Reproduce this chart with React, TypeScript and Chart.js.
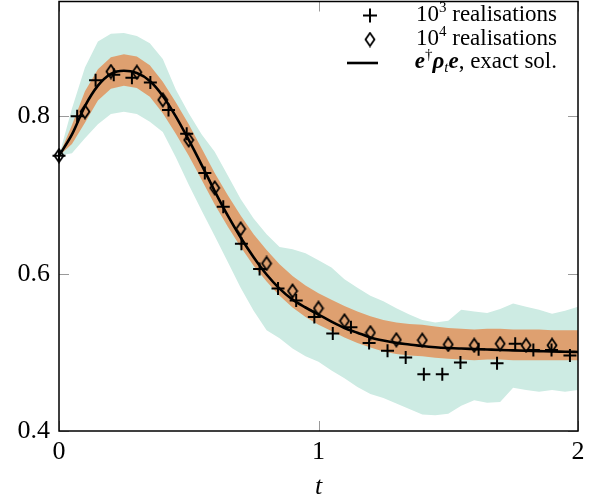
import React, { useEffect, useRef } from "react";
import { Chart, registerables } from "chart.js";

Chart.register(...registerables);

// ---------- data ----------
const xTicks = [0, 1, 2];
const yTicks = [0.4, 0.6, 0.8];

// 10^3 realisations (plus markers)
const plusT = [0, 0.070, 0.141, 0.211, 0.281, 0.352, 0.422, 0.492, 0.562, 0.633, 0.703, 0.773, 0.844, 0.914, 0.984, 1.055, 1.125, 1.195, 1.266, 1.336, 1.406, 1.477, 1.547, 1.617, 1.688, 1.758, 1.828, 1.898, 1.969];
const plusV = [0.75, 0.800, 0.846, 0.853, 0.849, 0.843, 0.808, 0.778, 0.728, 0.685, 0.638, 0.606, 0.581, 0.566, 0.545, 0.524, 0.532, 0.512, 0.502, 0.4935, 0.472, 0.472, 0.487, 0.504, 0.486, 0.511, 0.503, 0.503, 0.496];

// 10^4 realisations (diamond markers)
const diamondT = [0, 0.1, 0.2, 0.3, 0.4, 0.5, 0.6, 0.7, 0.8, 0.9, 1.0, 1.1, 1.2, 1.3, 1.4, 1.5, 1.6, 1.7, 1.8, 1.9];
const diamondV = [0.75, 0.806, 0.857, 0.856, 0.821, 0.770, 0.709, 0.657, 0.613, 0.578, 0.556, 0.540, 0.525, 0.516, 0.5155, 0.510, 0.509, 0.511, 0.509, 0.509];

// common time grid for exact solution and bands
const gridT = [0, 0.05, 0.1, 0.15, 0.2, 0.25, 0.3, 0.35, 0.4, 0.45, 0.5, 0.55, 0.6, 0.65, 0.7, 0.75, 0.8, 0.85, 0.9, 0.95, 1.0, 1.05, 1.1, 1.15, 1.2, 1.25, 1.3, 1.35, 1.4, 1.45, 1.5, 1.55, 1.6, 1.65, 1.7, 1.75, 1.8, 1.85, 1.9, 1.95, 2.0];

// exact solution e† rho_t e
const exactV = [0.75, 0.777, 0.813, 0.839, 0.854, 0.858, 0.855, 0.845, 0.826, 0.800, 0.770, 0.738, 0.705, 0.674, 0.646, 0.621, 0.599, 0.581, 0.567, 0.557, 0.548, 0.539, 0.531, 0.525, 0.519, 0.515, 0.512, 0.510, 0.508, 0.5065, 0.5055, 0.5048, 0.5042, 0.5036, 0.503, 0.5025, 0.502, 0.5015, 0.501, 0.5008, 0.5005];

// spread band of 10^3 realisations (teal)
const tealUpper = [0.75, 0.81, 0.862, 0.895, 0.905, 0.906, 0.902, 0.893, 0.873, 0.834, 0.804, 0.777, 0.755, 0.725, 0.695, 0.670, 0.650, 0.634, 0.631, 0.626, 0.617, 0.608, 0.593, 0.582, 0.572, 0.565, 0.556, 0.548, 0.541, 0.538, 0.540, 0.554, 0.552, 0.550, 0.555, 0.562, 0.558, 0.554, 0.549, 0.553, 0.558];
const tealLower = [0.75, 0.753, 0.772, 0.790, 0.803, 0.806, 0.803, 0.793, 0.780, 0.748, 0.713, 0.680, 0.648, 0.615, 0.582, 0.553, 0.528, 0.518, 0.505, 0.495, 0.488, 0.477, 0.467, 0.456, 0.447, 0.442, 0.435, 0.428, 0.421, 0.420, 0.422, 0.432, 0.439, 0.436, 0.437, 0.455, 0.452, 0.450, 0.452, 0.450, 0.452];

// spread band of 10^4 realisations (orange)
const orangeUpper = [0.75, 0.789, 0.832, 0.860, 0.875, 0.879, 0.876, 0.865, 0.844, 0.818, 0.790, 0.759, 0.728, 0.700, 0.674, 0.650, 0.630, 0.612, 0.597, 0.585, 0.575, 0.567, 0.559, 0.552, 0.546, 0.541, 0.538, 0.536, 0.535, 0.533, 0.531, 0.530, 0.529, 0.530, 0.530, 0.529, 0.529, 0.529, 0.528, 0.528, 0.528];
const orangeLower = [0.75, 0.765, 0.792, 0.820, 0.835, 0.839, 0.836, 0.825, 0.804, 0.778, 0.750, 0.719, 0.688, 0.660, 0.634, 0.610, 0.590, 0.572, 0.557, 0.545, 0.535, 0.527, 0.519, 0.512, 0.506, 0.501, 0.498, 0.496, 0.495, 0.493, 0.492, 0.491, 0.490, 0.491, 0.491, 0.490, 0.490, 0.490, 0.490, 0.490, 0.490];

// ---------- styles ----------
const SERIF = "'Liberation Serif', 'DejaVu Serif', serif";
const TEAL = "rgb(205,235,227)";
const ORANGE = "rgb(222,160,112)";

function pts(xs: number[], ys: number[]) {
  return xs.map((x, i) => ({ x, y: ys[i] }));
}

function makeDiamond(): HTMLCanvasElement {
  const c = document.createElement("canvas");
  const w = 12, h = 16;
  c.width = w;
  c.height = h;
  const g = c.getContext("2d")!;
  g.strokeStyle = "#000";
  g.lineWidth = 1.8;
  g.lineJoin = "miter";
  g.beginPath();
  g.moveTo(w / 2, 1.5);
  g.lineTo(w - 1.5, h / 2);
  g.lineTo(w / 2, h - 1.5);
  g.lineTo(1.5, h / 2);
  g.closePath();
  g.stroke();
  return c;
}

type Seg = { t: string; f: string; dy?: number };

function drawRich(ctx: CanvasRenderingContext2D, segs: Seg[], rightX: number, baseline: number) {
  let total = 0;
  for (const s of segs) {
    ctx.font = s.f;
    total += ctx.measureText(s.t).width;
  }
  let x = rightX - total;
  for (const s of segs) {
    ctx.font = s.f;
    ctx.fillText(s.t, x, baseline + (s.dy || 0));
    x += ctx.measureText(s.t).width;
  }
}

export default function App() {
  const ref = useRef<HTMLCanvasElement>(null);

  useEffect(() => {
    document.body.style.margin = "0";
    const canvas = ref.current!;
    const diamond = makeDiamond();

    const framePlugin = {
      id: "frameTicks",
      afterDatasetsDraw(chart: any) {
        const { ctx, chartArea } = chart;
        const { left, top, right, bottom } = chartArea;
        const xs = chart.scales.x;
        const ys = chart.scales.y;
        ctx.save();
        ctx.strokeStyle = "#9a9a9a";
        ctx.lineWidth = 1;
        ctx.beginPath();
        for (const v of xTicks) {
          const px = Math.round(xs.getPixelForValue(v)) + 0.5;
          ctx.moveTo(px, bottom);
          ctx.lineTo(px, bottom - 10);
          ctx.moveTo(px, top);
          ctx.lineTo(px, top + 10);
        }
        for (const v of yTicks) {
          const py = Math.round(ys.getPixelForValue(v)) + 0.5;
          ctx.moveTo(left, py);
          ctx.lineTo(left + 10, py);
          ctx.moveTo(right, py);
          ctx.lineTo(right - 10, py);
        }
        ctx.stroke();
        ctx.strokeStyle = "#000";
        ctx.lineWidth = 1.5;
        ctx.strokeRect(left, top, right - left, bottom - top);
        ctx.restore();
      },
    };

    const legendPlugin = {
      id: "richLegend",
      afterDraw(chart: any) {
        const { ctx, chartArea } = chart;
        const rx = chartArea.right - 21;
        const mx = chartArea.left + 311;
        const t0 = chartArea.top;
        ctx.save();
        ctx.fillStyle = "#000";
        ctx.textBaseline = "alphabetic";
        ctx.textAlign = "left";
        const reg = `23px ${SERIF}`;
        const small = `15px ${SERIF}`;
        const bi = `italic bold 23px ${SERIF}`;
        const it = `italic 15px ${SERIF}`;

        // row 1: plus marker
        ctx.strokeStyle = "#000";
        ctx.lineWidth = 2;
        const y1 = t0 + 14;
        ctx.beginPath();
        ctx.moveTo(mx - 7, y1);
        ctx.lineTo(mx + 7, y1);
        ctx.moveTo(mx, y1 - 7);
        ctx.lineTo(mx, y1 + 7);
        ctx.stroke();
        drawRich(ctx, [
          { t: "10", f: reg },
          { t: "3", f: small, dy: -9 },
          { t: " realisations", f: reg },
        ], rx, t0 + 19);

        // row 2: diamond marker
        const y2 = t0 + 38;
        ctx.drawImage(diamond, mx - diamond.width / 2, y2 - diamond.height / 2);
        drawRich(ctx, [
          { t: "10", f: reg },
          { t: "4", f: small, dy: -9 },
          { t: " realisations", f: reg },
        ], rx, t0 + 43);

        // row 3: line
        const y3 = t0 + 61.5;
        ctx.lineWidth = 2.6;
        ctx.beginPath();
        ctx.moveTo(chartArea.left + 288, y3);
        ctx.lineTo(chartArea.left + 319, y3);
        ctx.stroke();
        drawRich(ctx, [
          { t: "e", f: bi },
          { t: "\u2020", f: small, dy: -9 },
          { t: "\u03C1", f: bi },
          { t: "t", f: it, dy: 4 },
          { t: "e", f: bi },
          { t: ", exact sol.", f: reg },
        ], rx, t0 + 66);
        ctx.restore();
      },
    };

    const chart = new Chart(canvas, {
      type: "line",
      data: {
        datasets: [
          {
            label: "10³ realisations",
            data: pts(plusT, plusV),
            showLine: false,
            pointStyle: "cross",
            pointRadius: 6.5,
            pointBorderWidth: 2,
            pointBorderColor: "#000",
            borderColor: "#000",
            clip: 10,
            order: 0,
          },
          {
            label: "10⁴ realisations",
            data: pts(diamondT, diamondV),
            showLine: false,
            pointStyle: diamond as any,
            pointRadius: 6,
            clip: 10,
            order: 0,
          },
          {
            label: "e†ρₜe, exact sol.",
            data: pts(gridT, exactV),
            borderColor: "#000",
            borderWidth: 2.6,
            pointRadius: 0,
            cubicInterpolationMode: "monotone",
            fill: false,
            order: 1,
          },
          {
            label: "10⁴ upper",
            data: pts(gridT, orangeUpper),
            borderWidth: 0,
            borderColor: "rgba(0,0,0,0)",
            backgroundColor: ORANGE,
            pointRadius: 0,
            fill: "+1",
            order: 2,
          },
          {
            label: "10⁴ lower",
            data: pts(gridT, orangeLower),
            borderWidth: 0,
            borderColor: "rgba(0,0,0,0)",
            pointRadius: 0,
            fill: false,
            order: 2,
          },
          {
            label: "10³ upper",
            data: pts(gridT, tealUpper),
            borderWidth: 0,
            borderColor: "rgba(0,0,0,0)",
            backgroundColor: TEAL,
            pointRadius: 0,
            fill: "+1",
            order: 3,
          },
          {
            label: "10³ lower",
            data: pts(gridT, tealLower),
            borderWidth: 0,
            borderColor: "rgba(0,0,0,0)",
            pointRadius: 0,
            fill: false,
            order: 3,
          },
        ],
      },
      options: {
        responsive: false,
        animation: false,
        layout: { autoPadding: false, padding: { top: 1.5, right: 30, left: 0, bottom: 0 } },
        plugins: {
          legend: { display: false },
          tooltip: { enabled: false },
        },
        scales: {
          x: {
            type: "linear",
            min: 0,
            max: 2,
            grid: { display: false, drawTicks: false },
            border: { display: false },
            afterBuildTicks: (s: any) => {
              s.ticks = xTicks.map((v) => ({ value: v }));
            },
            afterFit: (s: any) => {
              s.height = 72;
              s.paddingLeft = 0;
              s.paddingRight = 0;
            },
            ticks: {
              padding: 6,
              color: "#000",
              maxRotation: 0,
              font: { family: SERIF, size: 26 },
              callback: (v: any) => String(v),
            },
            title: {
              display: true,
              text: "t",
              color: "#000",
              font: { family: SERIF, size: 26, style: "italic" },
              padding: { top: 0, bottom: 0 },
            },
          },
          y: {
            type: "linear",
            min: 0.4,
            max: 0.946,
            grid: { display: false, drawTicks: false },
            border: { display: false },
            afterBuildTicks: (s: any) => {
              s.ticks = yTicks.map((v) => ({ value: v }));
            },
            afterFit: (s: any) => {
              s.width = 59;
              s.paddingTop = 0;
              s.paddingBottom = 0;
            },
            ticks: {
              padding: 9,
              color: "#000",
              font: { family: SERIF, size: 26 },
              callback: (v: any) => Number(v).toFixed(1),
            },
          },
        },
      },
      plugins: [framePlugin, legendPlugin],
    } as any);

    return () => chart.destroy();
  }, []);

  return (
    <div style={{ width: 608, height: 503 }}>
      <canvas ref={ref} width={608} height={503} style={{ display: "block" }} />
    </div>
  );
}
